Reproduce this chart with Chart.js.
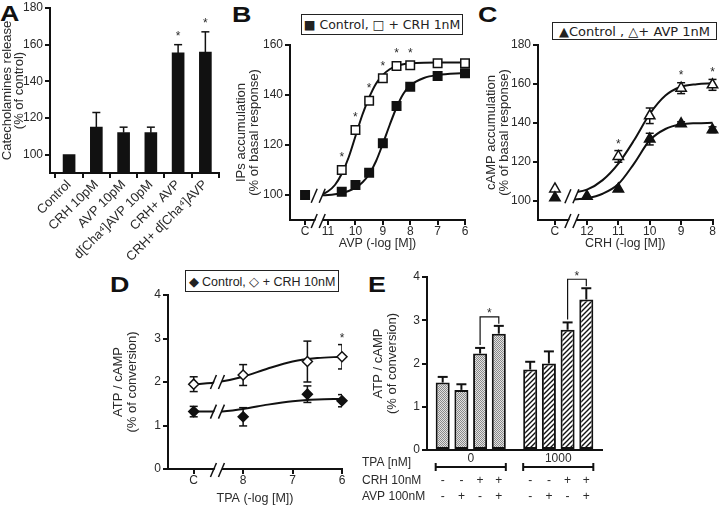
<!DOCTYPE html>
<html>
<head>
<meta charset="utf-8">
<title>CRH / AVP figure</title>
<script src="https://cdn.jsdelivr.net/npm/chart.js@4.4.1/dist/chart.umd.min.js"></script>
<style>
  body { margin: 0; width: 720px; height: 506px; position: relative; overflow: hidden; background: #fff;
         font-family: "Liberation Sans", Arial, sans-serif; color: #222; }
  canvas { position: absolute; }
  .panel { position: absolute; font-size: 22px; font-weight: bold; line-height: 22px; color: #111;
           transform: scaleX(1.22); transform-origin: left top; }
  .legend { position: absolute; box-sizing: border-box; border: 1.5px solid #222; display: flex;
            align-items: center; justify-content: center; white-space: nowrap; color: #222; }
</style>
</head>
<body>
<div class="panel" style="left:0;top:3px">A</div>
<div class="panel" style="left:232px;top:4px">B</div>
<div class="panel" style="left:478px;top:4px">C</div>
<div class="panel" style="left:110px;top:274px">D</div>
<div class="panel" style="left:368px;top:274px">E</div>

<div class="legend" style="left:301px;top:14px;width:162px;height:21px;font:12.5px 'DejaVu Sans'">■ Control,&nbsp;□ + CRH 1nM</div>
<div class="legend" style="left:552px;top:22px;width:165px;height:18px;font:13px 'DejaVu Sans'">▲Control ,&nbsp;△+ AVP 1nM</div>
<div class="legend" style="left:185px;top:270px;width:154px;height:22px;font:12.5px 'Liberation Sans'">◆ Control, ◇ + CRH 10nM</div>

<canvas id="panelA"></canvas>
<canvas id="panelB"></canvas>
<canvas id="panelC"></canvas>
<canvas id="panelD"></canvas>
<canvas id="panelE"></canvas>

<script>
// ---- A: catecholamine release (bars) ----
const aLabels = ['Control', 'CRH 10pM', 'AVP 10pM', 'd[Cha⁴]AVP 10pM', 'CRH+ AVP', 'CRH+ d[Cha⁴]AVP'];
const aMeans = [100, 115, 112, 112, 155.5, 156];
const aSem = [0, 8, 3, 3, 4.5, 11];
const aStars = [0, 0, 0, 0, 1, 1];
const aTicks = [100, 120, 140, 160, 180];

// ---- B: IPs vs AVP dose ('C' = basal) ----
const bDose = ['C', 10.5, 10, 9.5, 9, 8.5, 8, 7, 6];
const bCtrl = [100, 101.3, 104, 108.9, 120.7, 135.6, 143.3, 147.6, 148.7];
const bCrh = [null, 110, 126, 137.7, 146.7, 151.6, 151.9, 152.7, 152.7];
const bStars = [0, 1, 1, 1, 1, 1, 1, 0, 0];
const bFitX = [11.36, 11, 10.75, 10.5, 10.25, 10, 9.75, 9.5, 9.25, 9, 8.75, 8.5, 8.25, 8, 7.5, 7, 6];
const bFitCtrl = [99.8, 100, 100.3, 100.8, 101.6, 102.9, 105, 108.3, 113.5, 120.5, 128, 135, 140.5, 143.8, 146.8, 148, 148.8];
const bFitCrh = [99.6, 101.5, 104, 108.5, 115, 123.5, 132, 139, 144.5, 148, 150.3, 151.6, 152.3, 152.6, 152.9, 153, 153];
const bTicks = [100, 120, 140, 160];

// ---- C: cAMP vs CRH dose ----
const cDose = ['C', 12, 11, 10, 9, 8];
const cCtrl = [101.4, 102.2, 106, 131.6, 139.5, 136.4];
const cCtrlSem = [0, 0, 0, 3, 1, 1.5];
const cAvp = [106, null, 122.7, 143.6, 157.8, 159.5];
const cAvpSem = [0, 0, 3, 4, 2.8, 2.8];
const cStars = [0, 0, 1, 0, 1, 1];
const cFitX = [12.48, 12, 11.5, 11, 10.5, 10, 9.5, 9, 8.5, 8];
const cFitCtrl = [100.5, 101.2, 103.5, 108.5, 119, 131, 136.8, 139.2, 139.8, 140];
const cFitAvp = [104, 105.6, 110.5, 119, 131, 144.5, 154, 158.5, 159.8, 160.3];
const cTicks = [100, 120, 140, 160, 180];

// ---- D: ATP/cAMP vs TPA dose ----
const dDose = ['C', 8, 6.7, 6];
const dCtrl = [1.32, 1.2, 1.72, 1.57];
const dCtrlSem = [0.12, 0.21, 0.19, 0.14];
const dCrh = [1.95, 2.16, 2.47, 2.58];
const dCrhSem = [0.17, 0.24, 0.47, 0.28];
const dStars = [0, 0, 0, 1];
const dFitX = [9, 8.5, 8, 7.5, 7, 6.5, 6];
const dFitCtrl = [1.32, 1.32, 1.38, 1.48, 1.56, 1.6, 1.61];
const dFitCrh = [1.94, 2.0, 2.12, 2.31, 2.47, 2.55, 2.58];
const convTicks = [0, 1, 2, 3, 4];

// ---- E: ATP/cAMP bars, TPA 0 / 1000 nM ----
const eGroups = ['0', '1000'];
const eCrh = ['-', '-', '+', '+'];
const eAvp = ['-', '+', '-', '+'];
const eTpa0 = [1.56, 1.39, 2.23, 2.69];
const eTpa0Sem = [0.13, 0.13, 0.13, 0.18];
const eTpa1000 = [1.86, 2.0, 2.78, 3.48];
const eTpa1000Sem = [0.18, 0.28, 0.17, 0.26];
const eSigPair = [2, 3];
const eRowLabels = ['TPA [nM]', 'CRH 10nM', 'AVP 100nM'];

// where "C" and the axis break sit on each dose axis
const bCPos = 11.84, bBreak = 11.36;
const cCPos = 13.02, cBreak = 12.48;
const dCPos = 9.0, dBreak = 8.52;

const ink = '#111';
const txt = '#2a2a2a';
const sans = '"Liberation Sans", Arial, sans-serif';

Chart.defaults.font.family = sans;
Chart.defaults.color = txt;
Chart.defaults.animation = false;
Chart.defaults.responsive = false;
Chart.defaults.events = [];
Chart.defaults.plugins.legend.display = false;
Chart.defaults.plugins.tooltip.enabled = false;

function mount(id, left, top, w, h) {
  const c = document.getElementById(id);
  c.width = w; c.height = h;
  Object.assign(c.style, { left: left + 'px', top: top + 'px', width: w + 'px', height: h + 'px' });
  return c;
}

function seg(ctx, x1, y1, x2, y2) {
  ctx.beginPath(); ctx.moveTo(x1, y1); ctx.lineTo(x2, y2); ctx.stroke();
}

function star(ctx, x, y) {
  ctx.save();
  ctx.font = '12px ' + sans; ctx.textAlign = 'center'; ctx.textBaseline = 'middle'; ctx.fillStyle = txt;
  ctx.fillText('*', x, y + 2);
  ctx.restore();
}

// axis break "//"
function slashPair(ctx, x, y) {
  ctx.save();
  ctx.fillStyle = '#fff';
  ctx.beginPath();
  ctx.moveTo(x - 6, y + 7); ctx.lineTo(x, y - 7); ctx.lineTo(x + 7, y - 7); ctx.lineTo(x + 1, y + 7);
  ctx.closePath(); ctx.fill();
  ctx.strokeStyle = ink; ctx.lineWidth = 1.5;
  seg(ctx, x - 7, y + 7, x - 1, y - 7);
  seg(ctx, x + 1, y + 7, x + 7, y - 7);
  ctx.restore();
}

const gridStyle = { drawOnChartArea: false, color: ink, lineWidth: 2, tickLength: 5 };
const borderStyle = { color: ink, width: 2 };
const tickFont = { size: 12, lineHeight: 1 };

function yAxis(o) {
  return {
    type: 'linear', min: o.min, max: o.max,
    afterBuildTicks: s => { s.ticks = o.ticks.map(v => ({ value: v })); },
    afterFit: s => { s.width = o.width; },
    grid: gridStyle, border: borderStyle,
    ticks: { font: tickFont, padding: 2, color: txt },
    title: { display: true, text: o.title, color: txt, font: { size: 13, lineHeight: o.lh / 13 },
             padding: { top: o.pad, bottom: 0 } }
  };
}

function doseAxis(o) {
  return {
    type: 'linear', reverse: true, min: o.min, max: o.max,
    afterBuildTicks: s => { s.ticks = [o.cPos].concat(o.ticks).map(v => ({ value: v })); },
    afterFit: s => { s.height = o.height; },
    grid: gridStyle, border: borderStyle,
    ticks: { font: tickFont, padding: 1, color: txt, autoSkip: false, maxRotation: 0,
             callback: v => (v === o.cPos ? 'C' : String(v)) },
    title: { display: true, text: o.title, color: txt, font: { size: 12.5, lineHeight: 13 / 12.5 },
             padding: { top: 0, bottom: o.pad } }
  };
}

function points(dose, cPos, vals, sems, stars) {
  return dose.map((d, i) => ({ x: d === 'C' ? cPos : d, y: vals[i], e: sems ? sems[i] : 0, s: stars ? stars[i] : 0 }))
    .filter(p => p.y !== null);
}

function markerSet(data, style, filled, radius) {
  return { data, marks: true, showLine: false, pointStyle: style, pointRadius: radius,
           pointBackgroundColor: filled ? ink : '#fff', pointBorderColor: ink, pointBorderWidth: 1.5, clip: false };
}

function fitSet(xs, ys) {
  return { data: xs.map((x, i) => ({ x, y: ys[i] })), showLine: true, borderColor: ink, borderWidth: 2,
           pointRadius: 0, cubicInterpolationMode: 'monotone', clip: false };
}

// error bars, axis breaks and stars for the dose-response panels
function doseExtras(o) {
  return {
    id: 'doseExtras',
    beforeDatasetsDraw(chart) {
      const { ctx, chartArea: a, scales: { x, y } } = chart;
      ctx.save();
      if (o.clipErr) { ctx.beginPath(); ctx.rect(a.left, 0, a.right - a.left, chart.height); ctx.clip(); }
      ctx.strokeStyle = ink; ctx.lineWidth = 1.5;
      chart.data.datasets.forEach(ds => {
        if (!ds.marks) return;
        ds.data.forEach(p => {
          if (!p.e) return;
          const px = x.getPixelForValue(p.x), hi = y.getPixelForValue(p.y + p.e), lo = y.getPixelForValue(p.y - p.e);
          seg(ctx, px, lo, px, hi);
          seg(ctx, px - 4, hi, px + 4, hi);
          seg(ctx, px - 4, lo, px + 4, lo);
        });
      });
      ctx.restore();
    },
    afterDatasetsDraw(chart) {
      const { ctx, chartArea: a, scales: { x, y } } = chart;
      const bx = x.getPixelForValue(o.breakX);
      slashPair(ctx, bx, a.bottom + 1);
      o.curveYs.forEach(v => slashPair(ctx, bx, y.getPixelForValue(v)));
      chart.data.datasets.forEach(ds => {
        if (!ds.marks) return;
        ds.data.forEach(p => {
          if (!p.s) return;
          const px = x.getPixelForValue(p.x);
          const top = Math.min(y.getPixelForValue(p.y + p.e), y.getPixelForValue(p.y) - ds.pointRadius);
          star(ctx, px, top - 8);
        });
      });
    }
  };
}

// ---------- A ----------
const aExtras = {
  id: 'aExtras',
  afterDatasetsDraw(chart) {
    const { ctx, scales: { y } } = chart;
    ctx.save(); ctx.strokeStyle = ink; ctx.lineWidth = 1.5;
    chart.getDatasetMeta(0).data.forEach((b, i) => {
      const t = y.getPixelForValue(aMeans[i] + aSem[i]);
      if (aSem[i]) { seg(ctx, b.x, b.y, b.x, t); seg(ctx, b.x - 4, t, b.x + 4, t); }
      if (aStars[i]) star(ctx, b.x, t - 10);
    });
    ctx.restore();
  }
};

new Chart(mount('panelA', 0, 0, 230, 272), {
  type: 'bar',
  data: { datasets: [{ data: aMeans.map((v, i) => ({ x: i, y: v })), backgroundColor: ink, barThickness: 12 }] },
  options: {
    layout: { padding: { top: 7, right: 11 } },
    scales: {
      x: {
        type: 'linear', min: -0.7, max: 5.5, offset: false,
        afterBuildTicks: s => { s.ticks = aLabels.map((_, i) => ({ value: i })); },
        afterCalculateLabelRotation: s => { s.labelRotation = 45; },
        afterFit: s => { s.height = 99; },
        grid: gridStyle, border: borderStyle,
        ticks: { autoSkip: false, minRotation: 45, maxRotation: 45, padding: 0, font: { size: 13, lineHeight: 1 }, color: txt,
                 callback: v => aLabels[v] }
      },
      y: yAxis({ min: 90, max: 180, ticks: aTicks, width: 50, title: ['Catecholamines release', '(% of control)'], pad: 1.5, lh: 12 })
    }
  },
  plugins: [aExtras]
});

// ---------- B ----------
new Chart(mount('panelB', 228, 0, 247, 250), {
  type: 'scatter',
  data: { datasets: [
    markerSet(points(bDose, bCPos, bCtrl), 'rect', true, 6),
    markerSet(points(bDose, bCPos, bCrh, null, bStars), 'rect', false, 6),
    fitSet(bFitX, bFitCtrl),
    fitSet(bFitX, bFitCrh)
  ] },
  options: {
    layout: { padding: { top: 45, right: 10 } },
    scales: {
      x: doseAxis({ min: 6, max: 12.39, cPos: bCPos, ticks: [11, 10, 9, 8, 7, 6], height: 30, title: 'AVP (-log [M])', pad: 0 }),
      y: yAxis({ min: 90, max: 160, ticks: bTicks, width: 62, title: ['IPs accumulation', '(% of basal response)'], pad: 6.5, lh: 13 })
    }
  },
  plugins: [doseExtras({ breakX: bBreak, curveYs: [(bFitCtrl[0] + bFitCrh[0]) / 2] })]
});

// ---------- C ----------
new Chart(mount('panelC', 480, 0, 240, 250), {
  type: 'scatter',
  data: { datasets: [
    markerSet(points(cDose, cCPos, cCtrl, cCtrlSem), 'triangle', true, 6),
    markerSet(points(cDose, cCPos, cAvp, cAvpSem, cStars), 'triangle', false, 6),
    fitSet(cFitX, cFitCtrl),
    fitSet(cFitX, cFitAvp)
  ] },
  options: {
    layout: { padding: { top: 45, right: 7 } },
    scales: {
      x: doseAxis({ min: 8, max: 13.56, cPos: cCPos, ticks: [12, 11, 10, 9, 8], height: 30, title: 'CRH (-log [M])', pad: 0 }),
      y: yAxis({ min: 90, max: 180, ticks: cTicks, width: 58, title: ['cAMP accumulation', '(% of basal response)'], pad: 4.5, lh: 13 })
    }
  },
  plugins: [doseExtras({ breakX: cBreak, curveYs: [(cFitCtrl[0] + cFitAvp[0]) / 2] })]
});

// ---------- D ----------
new Chart(mount('panelD', 100, 250, 250, 256), {
  type: 'scatter',
  data: { datasets: [
    markerSet(points(dDose, dCPos, dCtrl, dCtrlSem), 'rectRot', true, 5),
    markerSet(points(dDose, dCPos, dCrh, dCrhSem, dStars), 'rectRot', false, 5),
    fitSet(dFitX, dFitCtrl),
    fitSet(dFitX, dFitCrh)
  ] },
  options: {
    layout: { padding: { top: 45, right: 8 } },
    scales: {
      x: doseAxis({ min: 6, max: 9.52, cPos: dCPos, ticks: [8, 7, 6], height: 37, title: 'TPA (-log [M])', pad: 1 }),
      y: yAxis({ min: 0, max: 4, ticks: convTicks, width: 68, title: ['ATP / cAMP', '(% of conversion)'], pad: 11.5, lh: 14 })
    }
  },
  plugins: [doseExtras({ breakX: dBreak, curveYs: [dFitCtrl[1], dFitCrh[1]], clipErr: true })]
});

// ---------- E ----------
function makePattern(size, paint) {
  const c = document.createElement('canvas');
  c.width = c.height = size;
  const g = c.getContext('2d');
  paint(g, size);
  return g.createPattern(c, 'repeat');
}
const dotFill = makePattern(2, g => {
  g.fillStyle = '#e2e2e2'; g.fillRect(0, 0, 2, 2);
  g.fillStyle = '#8a8a8a'; g.fillRect(0, 0, 1, 1); g.fillRect(1, 1, 1, 1);
});
const hatchFill = makePattern(5, g => {
  g.fillStyle = '#fff'; g.fillRect(0, 0, 5, 5);
  g.strokeStyle = ink; g.lineWidth = 1.4;
  g.beginPath();
  g.moveTo(-1, 6); g.lineTo(6, -1);
  g.moveTo(-1, 1); g.lineTo(1, -1);
  g.moveTo(4, 6); g.lineTo(6, 4);
  g.stroke();
});

const eExtras = {
  id: 'eExtras',
  afterDatasetsDraw(chart) {
    const { ctx, chartArea: a, scales: { y } } = chart;
    const groups = [[eTpa0, eTpa0Sem], [eTpa1000, eTpa1000Sem]];
    const bar = (d, g) => chart.getDatasetMeta(d).data[g];
    const errTop = (d, g) => y.getPixelForValue(groups[g][0][d] + groups[g][1][d]);
    ctx.save();
    ctx.strokeStyle = ink; ctx.fillStyle = txt;
    ctx.font = '12px ' + sans; ctx.textBaseline = 'middle';
    groups.forEach((_, g) => {
      ctx.lineWidth = 2;
      eCrh.forEach((_, d) => {
        const b = bar(d, g), t = errTop(d, g);
        seg(ctx, b.x, b.y, b.x, t);
        seg(ctx, b.x - 5, t, b.x + 5, t);
      });
      // significance bracket
      const [p, q] = eSigPair;
      const bp = bar(p, g), bq = bar(q, g), tp = errTop(p, g), tq = errTop(q, g);
      const top = Math.min(tp, tq) - 9;
      ctx.lineWidth = 1.2;
      ctx.beginPath();
      ctx.moveTo(bp.x, tp - 3); ctx.lineTo(bp.x, top); ctx.lineTo(bq.x, top); ctx.lineTo(bq.x, tq - 2);
      ctx.stroke();
      star(ctx, (bp.x + bq.x) / 2, top - 5);
      // TPA range under the axis
      const b0 = bar(0, g), b3 = bar(eCrh.length - 1, g);
      const l = b0.x - b0.width / 2, r = b3.x + b3.width / 2, by = a.bottom + 17;
      ctx.lineWidth = 2;
      seg(ctx, l, by, r, by); seg(ctx, l, by - 4, l, by + 4); seg(ctx, r, by - 4, r, by + 4);
      ctx.textAlign = 'center';
      eCrh.forEach((c, d) => {
        const b = bar(d, g);
        ctx.fillText(c, b.x, a.bottom + 31);
        ctx.fillText(eAvp[d], b.x, a.bottom + 47);
      });
    });
    ctx.textAlign = 'left';
    ctx.fillText(eRowLabels[0], 4, a.bottom + 13);
    ctx.fillText(eRowLabels[1], 4, a.bottom + 31);
    ctx.fillText(eRowLabels[2], 4, a.bottom + 47);
    ctx.restore();
  }
};

new Chart(mount('panelE', 358, 250, 362, 256), {
  type: 'bar',
  data: {
    labels: eGroups,
    datasets: eCrh.map((_, d) => ({
      data: [eTpa0[d], eTpa1000[d]],
      backgroundColor: [dotFill, hatchFill], borderColor: ink, borderWidth: 2, borderSkipped: false,
      categoryPercentage: 0.855, barPercentage: 0.75
    }))
  },
  options: {
    layout: { padding: { top: 27, right: 118 } },
    scales: {
      x: { afterFit: s => { s.height = 56; }, grid: { display: false, drawTicks: false }, border: borderStyle,
           ticks: { padding: 3, font: tickFont, color: txt } },
      y: yAxis({ min: 0, max: 4, ticks: convTicks, width: 69, title: ['ATP / cAMP', '(% of conversion)'], pad: 13.5, lh: 14 })
    }
  },
  plugins: [eExtras]
});
</script>
</body>
</html>
